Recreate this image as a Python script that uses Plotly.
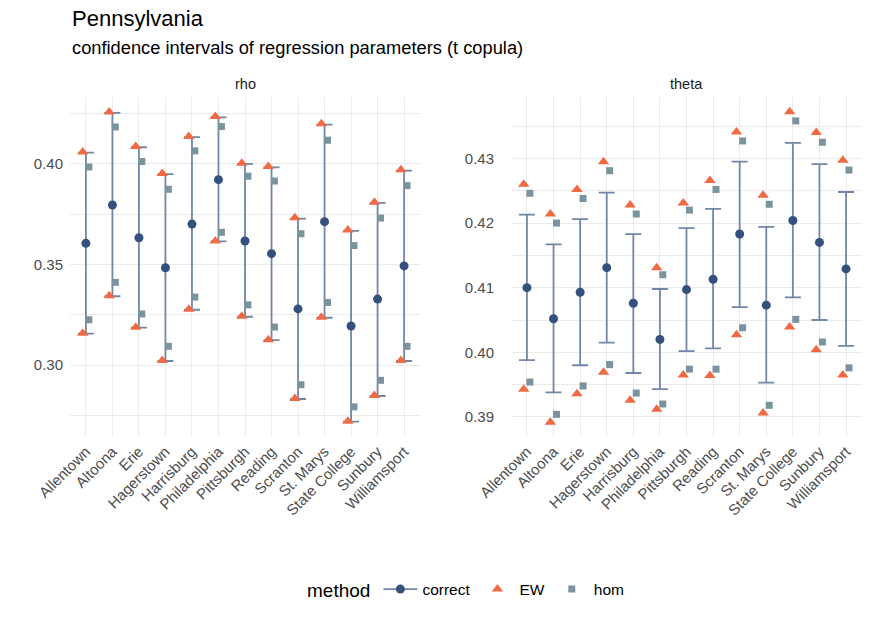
import plotly.graph_objects as go
from plotly.subplots import make_subplots

cities = ["Allentown", "Altoona", "Erie", "Hagerstown", "Harrisburg", "Philadelphia",
          "Pittsburgh", "Reading", "Scranton", "St. Marys", "State College", "Sunbury",
          "Williamsport"]

# rho panel
rho_est = [0.3605, 0.3796, 0.3633, 0.3484, 0.3701, 0.3922, 0.3617, 0.3554, 0.3279, 0.3713, 0.3194, 0.3328, 0.3493]
rho_lo = [0.3156, 0.3342, 0.3186, 0.3020, 0.3275, 0.3615, 0.3240, 0.3124, 0.2831, 0.3235, 0.2718, 0.2846, 0.3020]
rho_hi = [0.4056, 0.4254, 0.4083, 0.3949, 0.4133, 0.4232, 0.4000, 0.3983, 0.3728, 0.4196, 0.3667, 0.3806, 0.3967]
rho_ew_lo = [0.3158, 0.3344, 0.3188, 0.3022, 0.3277, 0.3617, 0.3242, 0.3126, 0.2833, 0.3237, 0.2720, 0.2848, 0.3022]
rho_ew_hi = [0.4060, 0.4258, 0.4087, 0.3953, 0.4137, 0.4236, 0.4004, 0.3987, 0.3732, 0.4200, 0.3671, 0.3810, 0.3971]
rho_hom_lo = [0.3225, 0.3411, 0.3254, 0.3093, 0.3338, 0.3660, 0.3299, 0.3189, 0.2902, 0.3311, 0.2792, 0.2924, 0.3093]
rho_hom_hi = [0.3985, 0.4184, 0.4012, 0.3874, 0.4065, 0.4186, 0.3939, 0.3915, 0.3653, 0.4118, 0.3594, 0.3731, 0.3892]

# theta panel
theta_est = [0.4100, 0.4052, 0.4093, 0.4131, 0.4076, 0.4020, 0.4097, 0.4113, 0.4183, 0.4073, 0.4204, 0.4170, 0.4129]
theta_lo = [0.3988, 0.3938, 0.3980, 0.4015, 0.3968, 0.3943, 0.4002, 0.4006, 0.4070, 0.3953, 0.4085, 0.4050, 0.4010]
theta_hi = [0.4213, 0.4167, 0.4206, 0.4247, 0.4183, 0.4098, 0.4192, 0.4222, 0.4295, 0.4194, 0.4324, 0.4291, 0.4248]
theta_ew_lo = [0.3943, 0.3892, 0.3936, 0.3969, 0.3926, 0.3912, 0.3965, 0.3964, 0.4027, 0.3906, 0.4039, 0.4004, 0.3965]
theta_ew_hi = [0.4260, 0.4214, 0.4252, 0.4295, 0.4228, 0.4131, 0.4231, 0.4266, 0.4341, 0.4243, 0.4372, 0.4340, 0.4297]
theta_hom_lo = [0.3954, 0.3904, 0.3948, 0.3981, 0.3937, 0.3920, 0.3974, 0.3974, 0.4038, 0.3918, 0.4051, 0.4016, 0.3976]
theta_hom_hi = [0.4246, 0.4200, 0.4238, 0.4281, 0.4214, 0.4120, 0.4220, 0.4252, 0.4327, 0.4229, 0.4358, 0.4325, 0.4282]

col_pt = "#34507C"
col_bar = "#7187A7"
col_ew = "#F26A44"
col_hom = "#7B939E"
grid = "#EBEBEB"
FONT = "Liberation Sans, Arial, sans-serif"

idx = list(range(len(cities)))
x_ew = [i - 0.12 for i in idx]
x_hom = [i + 0.11 for i in idx]

fig = make_subplots(rows=1, cols=2)

# legend entry for the point + errorbar key (first, so it leads the legend)
fig.add_trace(go.Scatter(x=[None], y=[None], mode="lines+markers", name="correct",
                         marker=dict(color=col_pt, size=9),
                         line=dict(color=col_bar, width=1.8)), row=1, col=1)

panels = [
    (1, rho_est, rho_lo, rho_hi, rho_ew_lo, rho_ew_hi, rho_hom_lo, rho_hom_hi),
    (2, theta_est, theta_lo, theta_hi, theta_ew_lo, theta_ew_hi, theta_hom_lo, theta_hom_hi),
]
for col, est, lo, hi, ewlo, ewhi, hlo, hhi in panels:
    up = [h - e for h, e in zip(hi, est)]
    dn = [e - l for e, l in zip(est, lo)]
    fig.add_trace(go.Scatter(
        x=idx, y=est, mode="markers", showlegend=False, name="correct",
        marker=dict(color=col_pt, size=9),
        error_y=dict(type="data", array=up, arrayminus=dn, color=col_bar,
                     thickness=1.8, width=8)), row=1, col=col)
    fig.add_trace(go.Scatter(
        x=x_ew + x_ew, y=ewlo + ewhi, mode="markers", name="EW",
        showlegend=(col == 1),
        marker=dict(color=col_ew, size=10, symbol="triangle-up")), row=1, col=col)
    fig.add_trace(go.Scatter(
        x=x_hom + x_hom, y=hlo + hhi, mode="markers", name="hom",
        showlegend=(col == 1),
        marker=dict(color=col_hom, size=7, symbol="square")), row=1, col=col)

xcommon = dict(range=[-0.6, 12.6], tickvals=idx, ticktext=cities, tickangle=-45,
               showgrid=True, gridcolor=grid, gridwidth=1.2, zeroline=False,
               showline=False, ticks="", automargin=False, ticklabelstandoff=2,
               tickfont=dict(family=FONT, size=15, color="#4D4D4D"))
fig.update_xaxes(**xcommon)
fig.update_xaxes(domain=[70 / 872, 420 / 872], row=1, col=1)
fig.update_xaxes(domain=[511 / 872, 862 / 872], row=1, col=2)

ycommon = dict(showgrid=True, gridcolor=grid, gridwidth=1.2, zeroline=False,
               showline=False, ticks="", domain=[1 - 437 / 623, 1 - 97 / 623],
               automargin=False,
               tickfont=dict(family=FONT, size=15, color="#4D4D4D"))
fig.update_yaxes(**ycommon)
fig.update_yaxes(range=[0.2642, 0.4333], tickvals=[0.30, 0.35, 0.40],
                 ticktext=["0.30", "0.35", "0.40"], ticklabelstandoff=6,
                 minor=dict(tickvals=[0.275, 0.325, 0.375, 0.425], showgrid=True,
                            gridcolor=grid, gridwidth=0.7, ticks=""),
                 row=1, col=1)
fig.update_yaxes(range=[0.3869, 0.4395], tickvals=[0.39, 0.40, 0.41, 0.42, 0.43],
                 ticktext=["0.39", "0.40", "0.41", "0.42", "0.43"], ticklabelstandoff=16,
                 minor=dict(tickvals=[0.385, 0.395, 0.405, 0.415, 0.425, 0.435], showgrid=True,
                            gridcolor=grid, gridwidth=0.7, ticks=""),
                 row=1, col=2)

fig.update_layout(
    width=872, height=623,
    margin=dict(l=0, r=0, t=0, b=0, autoexpand=False),
    paper_bgcolor="white", plot_bgcolor="white",
    font=dict(family=FONT, color="black"),
    legend=dict(orientation="h", x=305 / 872, xanchor="left", y=1 - 590 / 623,
                yanchor="middle", title=dict(text="method", font=dict(size=19)),
                font=dict(size=15.5), traceorder="normal", itemwidth=34),
    annotations=[
        dict(text="Pennsylvania", x=70 / 872, y=1 - 19 / 623, xref="paper", yref="paper",
             xanchor="left", yanchor="middle", showarrow=False, font=dict(size=22)),
        dict(text="confidence intervals of regression parameters (t copula)",
             x=70 / 872, y=1 - 48 / 623, xref="paper", yref="paper",
             xanchor="left", yanchor="middle", showarrow=False, font=dict(size=18.3)),
        dict(text="rho", x=245 / 872, y=1 - 84 / 623, xref="paper", yref="paper",
             xanchor="center", yanchor="middle", showarrow=False,
             font=dict(size=14.5, color="#1A1A1A")),
        dict(text="theta", x=686 / 872, y=1 - 84 / 623, xref="paper", yref="paper",
             xanchor="center", yanchor="middle", showarrow=False,
             font=dict(size=14.5, color="#1A1A1A")),
    ],
)

fig.write_html("out.html", config={"displayModeBar": False},
               post_script="document.body.style.margin='0';")
